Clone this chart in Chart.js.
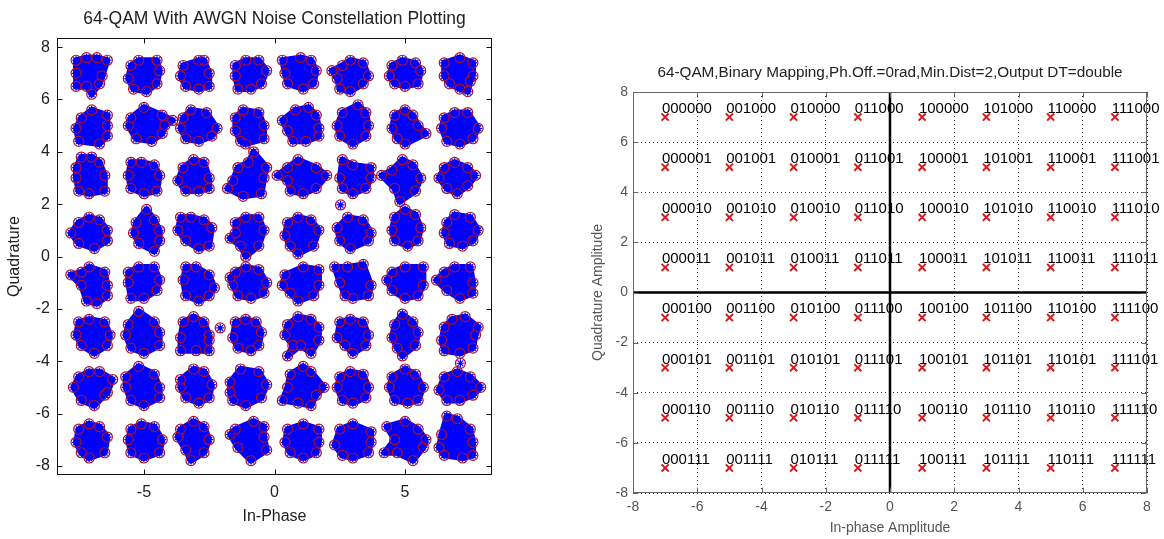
<!DOCTYPE html>
<html>
<head>
<meta charset="utf-8">
<script src="https://cdn.jsdelivr.net/npm/chart.js@4.4.1/dist/chart.umd.min.js"></script>
<style>
  html, body { margin: 0; padding: 0; background: #fff; }
  #wrap { position: relative; width: 1164px; height: 539px; overflow: hidden; }
  canvas { position: absolute; top: 0; }
  #noisy { left: 0; }
  #ideal { left: 540px; }
</style>
</head>
<body>
<div id="wrap">
  <canvas id="noisy" width="530" height="539"></canvas>
  <canvas id="ideal" width="624" height="539"></canvas>
</div>
<script>
// 64-QAM symbol levels (columns left->right, rows top->bottom)
const levelsI = [-7, -5, -3, -1, 1, 3, 5, 7];
const levelsQ = [7, 5, 3, 1, -1, -3, -5, -7];

// Bit labels, column by column (x = -7 first), top to bottom
const bitLabels = [
  '000000','000001','000010','000011','000100','000101','000110','000111',
  '001000','001001','001010','001011','001100','001101','001110','001111',
  '010000','010001','010010','010011','010100','010101','010110','010111',
  '011000','011001','011010','011011','011100','011101','011110','011111',
  '100000','100001','100010','100011','100100','100101','100110','100111',
  '101000','101001','101010','101011','101100','101101','101110','101111',
  '110000','110001','110010','110011','110100','110101','110110','110111',
  '111000','111001','111010','111011','111100','111101','111110','111111'
];

// Noisy received clusters: outline samples,
// offsets from the ideal point in tenths, row by row (q = 7 first), x = -7..7
const clusterShapes = [
  // q = 7
  [4,-1, 6,5, 2,6, -2,6, -6,5, -6,0, -6,-5, -2,-5, 0,-8, 3,-4],
  [6,1, 5,5, -2,5, -5,3, -6,-2, -4,-6, 1,-7, 5,-4],
  [5,0, 3,5, 1,5, -5,3, -6,-1, -4,-5, 1,-6, 5,-5],
  [7,1, 4,5, -1,5, -5,3, -5,-1, -4,-6, 1,-6, 5,-4],
  [6,1, 4,5, 0,6, -7,5, -6,0, -5,-4, 1,-6, 5,-4],
  [6,-1, 4,4, -1,5, -4,3, -8,1, -6,-2, -5,-6, -1,-7, 4,-4],
  [6,1, 4,4, -1,5, -5,3, -6,-1, -4,-4, 0,-5, 5,-4],
  [6,-1, 6,4, 1,6, -5,4, -5,-1, -3,-4, 1,-6, 4,-7, 5,-3],
  // q = 5
  [6,0, 6,4, 0,6, -4,3, -6,-1, -5,-6, 3,-7, 6,-4],
  [8,0, 11,2, 7,4, 0,7, -5,3, -6,0, -3,-5, 3,-6, 7,-3],
  [8,-1, 4,5, -2,6, -5,3, -6,-1, -4,-5, 1,-6, 6,-4],
  [6,0, 4,5, -2,6, -5,3, -5,-2, -3,-6, -1,-7, 6,-5],
  [7,-1, 6,4, 3,7, -2,6, -7,2, -5,-2, -3,-6, 2,-6, 7,-4],
  [6,0, 5,5, 2,8, -4,5, -6,0, -5,-4, 0,-7, 5,-4],
  [5,0, 3,4, 0,6, -4,4, -5,-1, -3,-5, 0,-7, 8,-3],
  [8,-1, 4,5, -1,5, -5,3, -6,-1, -4,-6, 1,-7, 6,-5],
  // q = 3
  [5,1, 3,6, 0,8, -4,8, -6,4, -6,0, -5,-5, -1,-6, 5,-5],
  [6,1, 4,5, -1,6, -5,6, -6,1, -5,-4, 0,-6, 5,-5],
  [5,0, 3,6, -1,7, -5,4, -7,-1, -4,-5, 1,-5, 5,-4],
  [6,0, 7,4, 2,10, 0,6, -4,4, -6,-1, -8,-4, -2,-7, 5,-6],
  [10,1, 6,4, -1,7, -5,4, -9,1, -5,-1, -4,-5, 1,-6, 6,-4],
  [7,0, 7,4, 0,5, -4,7, -5,0, -4,-4, 0,-6, 5,-4],
  [6,0, 3,5, -1,7, -5,3, -9,1, -4,-4, -2,-9, 4,-5],
  [7,1, 4,4, -1,6, -5,4, -7,0, -4,-4, 0,-6, 4,-3],
  // q = 1
  [6,0, 3,4, -1,5, -5,3, -8,-1, -5,-5, 1,-7, 6,-4],
  [6,0, 4,4, 1,8, -3,3, -4,-1, -2,-5, 4,-8, 6,-4],
  [6,1, 3,4, -2,5, -6,5, -7,0, -4,-4, 1,-7, 5,-6],
  [6,0, 4,5, -1,5, -5,3, -5,-1, -7,-3, -3,-6, -1,-10, 4,-6],
  [7,0, 4,4, -1,5, -5,3, -6,-2, -4,-6, -1,-9, 5,-6],
  [7,-1, 4,4, -2,5, -6,1, -5,-4, -1,-7, 6,-4],
  [6,1, 4,6, 0,8, -4,5, -5,0, -4,-4, 1,-6, 5,-4],
  [8,0, 5,5, -1,6, -4,3, -5,-1, -3,-5, 2,-6, 6,-4],
  // q = -1
  [6,-1, 5,4, -1,6, -4,4, -8,3, -4,-1, -2,-7, 2,-8, 6,-5],
  [6,1, 4,6, -2,6, -6,4, -6,0, -5,-6, 0,-6, 5,-3],
  [7,-2, 5,3, 0,6, -4,6, -5,1, -4,-5, 1,-7, 5,-5],
  [7,0, 4,5, -1,6, -5,4, -7,2, -6,-1, -4,-5, 1,-6, 6,-4],
  [7,-1, 7,5, 1,6, -6,3, -7,-1, -4,-4, -1,-7, 5,-5],
  [7,-1, 4,7, -2,6, -7,6, -5,0, -3,-5, 0,-6, 6,-5],
  [7,-1, 7,6, 0,6, -5,4, -7,1, -5,-3, 0,-6, 5,-5],
  [6,0, 5,6, -1,6, -5,4, -8,1, -4,-3, 1,-6, 6,-4],
  // q = -3
  [7,0, 5,5, -1,6, -5,5, -6,0, -4,-4, 1,-7, 6,-4],
  [6,1, 4,5, -2,9, -6,4, -7,0, -5,-5, 0,-7, 6,-4],
  [5,0, 3,5, -1,7, -5,5, -6,-1, -6,-6, 0,-6, 5,-6, 5,-2],
  [5,1, 3,5, -1,6, -5,5, -6,-1, -4,-5, 1,-6, 4,-4],
  [7,-2, 7,3, 4,6, -1,7, -5,4, -6,0, -3,-4, -5,-8, 0,-4, 4,-7],
  [6,0, 4,5, -1,6, -5,5, -6,-1, -3,-4, 0,-7, 5,-4],
  [5,1, 3,5, -1,8, -4,4, -5,-1, -3,-5, -1,-8, 4,-4],
  [7,0, 8,3, 3,7, -2,6, -5,3, -6,-2, -5,-6, 1,-7, 6,-5],
  // q = -5
  [6,-2, 8,3, 3,6, -1,6, -5,4, -7,0, -4,-5, 1,-7, 5,-3],
  [6,0, 4,5, -2,8, -7,4, -7,0, -5,-5, 0,-7, 6,-4],
  [6,1, 3,6, -1,7, -6,3, -6,0, -4,-4, 1,-6, 5,-4],
  [7,1, 4,6, -3,7, -7,2, -7,-2, -6,-5, -1,-7, 5,-4],
  [9,0, 4,6, 1,8, -4,5, -5,0, -7,-5, -1,-6, 4,-7, 6,-3],
  [6,0, 4,5, -1,6, -5,4, -6,0, -4,-5, 0,-6, 5,-4],
  [7,0, 4,5, 0,7, -5,4, -6,0, -4,-5, 1,-6, 5,-5],
  [9,0, 5,4, 0,6, -5,4, -7,-1, -4,-5, 1,-5, 6,-3],
  // q = -7
  [6,1, 3,5, -1,6, -5,4, -6,-1, -4,-5, -1,-7, 5,-5],
  [7,0, 4,5, -1,6, -5,4, -6,0, -5,-5, 0,-7, 6,-5],
  [5,0, 3,5, -1,7, -6,4, -7,1, -4,-4, -2,-8, 3,-5],
  [6,1, 6,5, 2,7, -5,4, -7,2, -4,-3, 1,-8, 7,-4],
  [7,-1, 7,4, 1,6, -5,4, -6,-1, -4,-5, 1,-7, 6,-5],
  [7,-1, 7,3, 0,6, -5,4, -7,-2, -4,-6, 0,-7, 6,-5],
  [8,0, 5,4, 0,7, -7,5, -4,0, -8,-5, -3,-5, 3,-8, 7,-3],
  [6,-1, 5,4, 0,8, -4,9, -6,2, -7,-3, -5,-6, 2,-7, 6,-6]
];

// isolated received samples away from the clusters
const strayI = [2.53, -2.08, 7.12];
const strayQ = [1.97, -2.73, -4.08];

const noisyTicksX = [-5, 0, 5];
const noisyTicksY = [-8, -6, -4, -2, 0, 2, 4, 6, 8];
const idealTicks = [-8, -6, -4, -2, 0, 2, 4, 6, 8];

const FONT = "'Liberation Sans', Arial, Helvetica, sans-serif";

/**
 * Frame, inward tick marks, optional zero lines and the title
 */
const axesBox = {
  id: 'axesBox',
  afterDraw(chart, args, opts) {
    const { ctx, chartArea: a, scales } = chart;
    const L = Math.round(a.left) + 0.5, R = Math.round(a.right) - 0.5;
    const T = Math.round(a.top) + 0.5, B = Math.round(a.bottom) - 0.5;
    ctx.save();

    if (opts.zeroLines) {
      const x0 = scales.x.getPixelForValue(0);
      const y0 = scales.y.getPixelForValue(0);
      ctx.strokeStyle = '#000';
      ctx.lineWidth = 2.5;
      ctx.beginPath();
      ctx.moveTo(x0, a.top); ctx.lineTo(x0, a.bottom);
      ctx.moveTo(a.left, y0); ctx.lineTo(a.right, y0);
      ctx.stroke();
    }

    ctx.strokeStyle = opts.color;
    ctx.lineWidth = 1;
    ctx.beginPath();
    scales.x.ticks.forEach(t => {
      const px = Math.round(scales.x.getPixelForValue(t.value)) + 0.5;
      ctx.moveTo(px, T); ctx.lineTo(px, T + opts.tick);
      ctx.moveTo(px, B); ctx.lineTo(px, B - opts.tick);
    });
    scales.y.ticks.forEach(t => {
      const py = Math.round(scales.y.getPixelForValue(t.value)) + 0.5;
      ctx.moveTo(L, py); ctx.lineTo(L + opts.tick, py);
      ctx.moveTo(R, py); ctx.lineTo(R - opts.tick, py);
    });
    ctx.stroke();
    ctx.strokeRect(L, T, R - L, B - T);

    ctx.fillStyle = opts.titleColor;
    ctx.font = opts.titleFont;
    ctx.textAlign = 'center';
    ctx.textBaseline = 'middle';
    ctx.fillText(opts.title, (a.left + a.right) / 2, opts.titleY);
    ctx.restore();
  }
};

/**
 * Bit labels written next to each ideal point
 */
const bitText = {
  id: 'bitText',
  beforeDatasetsDraw(chart) {
    const { ctx, scales } = chart;
    const pts = chart.data.datasets[0].data;
    ctx.save();
    ctx.fillStyle = '#000';
    ctx.font = '15px ' + FONT;
    ctx.textAlign = 'left';
    ctx.textBaseline = 'middle';
    pts.forEach((p, i) => {
      const px = scales.x.getPixelForValue(p.x - 0.1);
      const py = scales.y.getPixelForValue(p.y + 0.33);
      ctx.fillText(bitLabels[i], px, py);
    });
    ctx.restore();
  }
};

// ---------- left: noisy constellation ----------
const polygons = [];
const edgePoints = [];
clusterShapes.forEach((offs, k) => {
  const cx = levelsI[k % 8];
  const cy = levelsQ[Math.floor(k / 8)];
  const pts = [];
  for (let i = 0; i < offs.length; i += 2) {
    pts.push({ x: cx + offs[i] / 10, y: cy + offs[i + 1] / 10 });
  }
  edgePoints.push(...pts);
  polygons.push({
    data: pts.concat([pts[0]]),
    showLine: true,
    fill: 'shape',
    tension: 0,
    backgroundColor: '#0000ff',
    borderColor: '#0000ff',
    borderWidth: 6,
    borderJoinStyle: 'round',
    pointRadius: 0,
    order: 3
  });
});
strayI.forEach((x, i) => edgePoints.push({ x, y: strayQ[i] }));

new Chart(document.getElementById('noisy'), {
  type: 'scatter',
  data: {
    datasets: [
      {
        data: edgePoints,
        pointStyle: 'star',
        pointRadius: 4,
        borderColor: '#0000ff',
        borderWidth: 1.2,
        order: 0
      },
      {
        data: edgePoints,
        pointStyle: 'circle',
        pointRadius: 5,
        backgroundColor: 'rgba(0,0,0,0)',
        borderColor: '#a8102e',
        borderWidth: 1.2,
        order: 1
      },
      ...polygons
    ]
  },
  options: {
    responsive: false,
    animation: false,
    devicePixelRatio: 1,
    layout: { padding: { left: 0, right: 38, top: 38, bottom: 0 } },
    plugins: {
      legend: { display: false },
      tooltip: { enabled: false },
      axesBox: {
        color: '#111', tick: 5, zeroLines: false,
        title: '64-QAM With AWGN Noise Constellation Plotting',
        titleFont: '17.5px ' + FONT, titleColor: '#222', titleY: 19
      }
    },
    scales: {
      x: {
        type: 'linear', min: -8.33, max: 8.33,
        afterBuildTicks: s => { s.ticks = noisyTicksX.map(v => ({ value: v })); },
        afterFit: s => { s.height = 64; },
        grid: { display: false, drawTicks: false },
        border: { display: false },
        ticks: { padding: 8, color: '#222', font: { size: 16, family: FONT } },
        title: { display: true, text: 'In-Phase', color: '#222',
                 font: { size: 16, family: FONT }, padding: { top: 0, bottom: 13 } }
      },
      y: {
        type: 'linear', min: -8.35, max: 8.35,
        afterBuildTicks: s => { s.ticks = noisyTicksY.map(v => ({ value: v })); },
        afterFit: s => { s.width = 57; },
        grid: { display: false, drawTicks: false },
        border: { display: false },
        ticks: { padding: 7, color: '#222', font: { size: 16, family: FONT } },
        title: { display: true, text: 'Quadrature', color: '#222',
                 font: { size: 16, family: FONT }, padding: { top: 5, bottom: 0 } }
      }
    }
  },
  plugins: [axesBox]
});

// ---------- right: ideal constellation with bit mapping ----------
const idealPoints = [];
levelsI.forEach(x => levelsQ.forEach(y => idealPoints.push({ x, y })));

new Chart(document.getElementById('ideal'), {
  type: 'scatter',
  data: {
    datasets: [{
      data: idealPoints,
      pointStyle: 'crossRot',
      pointRadius: 5,
      borderColor: '#d41c1c',
      borderWidth: 2
    }]
  },
  options: {
    responsive: false,
    animation: false,
    devicePixelRatio: 1,
    layout: { padding: { left: 0, right: 17, top: 92, bottom: 0 } },
    plugins: {
      legend: { display: false },
      tooltip: { enabled: false },
      axesBox: {
        color: '#666', tick: 5, zeroLines: true,
        title: '64-QAM,Binary Mapping,Ph.Off.=0rad,Min.Dist=2,Output DT=double',
        titleFont: '15.3px ' + FONT, titleColor: '#222', titleY: 73
      }
    },
    scales: {
      x: {
        type: 'linear', min: -8, max: 8,
        afterBuildTicks: s => { s.ticks = idealTicks.map(v => ({ value: v })); },
        afterFit: s => { s.height = 46; },
        grid: { color: '#333', lineWidth: 1, drawTicks: false },
        border: { display: false, dash: [1, 3] },
        ticks: { padding: 6, color: '#555', font: { size: 14, family: FONT } },
        title: { display: true, text: 'In-phase Amplitude', color: '#555',
                 font: { size: 14, family: FONT }, padding: { top: 0, bottom: 2 } }
      },
      y: {
        type: 'linear', min: -8, max: 8,
        afterBuildTicks: s => { s.ticks = idealTicks.map(v => ({ value: v })); },
        afterFit: s => { s.width = 93; },
        grid: { color: '#333', lineWidth: 1, drawTicks: false },
        border: { display: false, dash: [1, 3] },
        ticks: { padding: 5, color: '#555', font: { size: 14, family: FONT } },
        title: { display: true, text: 'Quadrature Amplitude', color: '#555',
                 font: { size: 14, family: FONT }, padding: { top: 50, bottom: 0 } }
      }
    }
  },
  plugins: [bitText, axesBox]
});
</script>
</body>
</html>
